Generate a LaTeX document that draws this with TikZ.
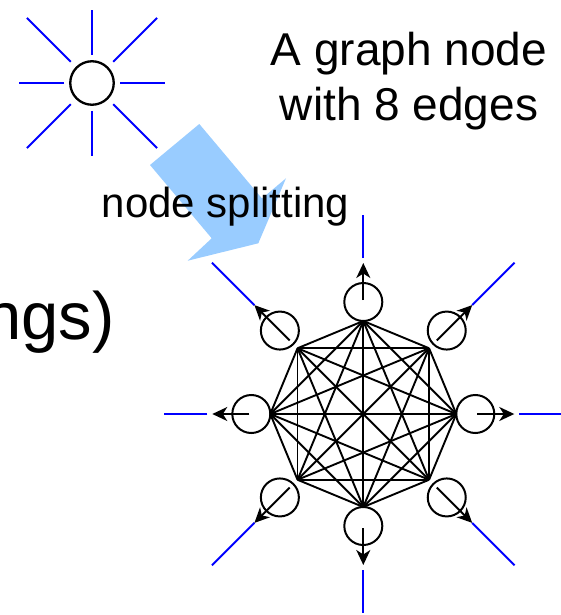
\documentclass[tikz,border=0pt]{standalone}
\usepackage{fontspec}
\setmainfont{Liberation Sans}
\usetikzlibrary{arrows.meta,calc}
\definecolor{arrowblue}{HTML}{99CCFF}
\definecolor{rayblue}{HTML}{0000FF}
\begin{document}
\begin{tikzpicture}[x=1pt,y=-1pt,
  ray/.style={draw=rayblue,line width=2pt},
  edge/.style={draw=black,line width=1.9pt},
  ring/.style={circle,draw=black,line width=2pt,minimum size=38pt,inner sep=0pt},
  outarrow/.style={draw=black,line width=2pt,-{Stealth[length=15pt,width=14pt,inset=4.5pt]}},
  lbl/.style={inner sep=0pt}]
\useasboundingbox (0,0) rectangle (561,615);
\clip (0,0) rectangle (561,615);

% sun (graph node with 8 edges)
\node[ring,minimum size=43.5pt,line width=2.3pt] (sun) at (92,83) {};
\foreach \a in {0,90,180,270} {
  \coordinate (sa\a) at ($(sun.center)+(\a:28)$);
  \coordinate (sb\a) at ($(sun.center)+(\a:73)$);
  \draw[ray] (sa\a) -- (sb\a);
}
\foreach \a in {45,135,225,315} {
  \coordinate (sa\a) at ($(sun.center)+(\a:30)$);
  \coordinate (sb\a) at ($(sun.center)+(\a:92)$);
  \draw[ray] (sa\a) -- (sb\a);
}

% big arrow
\fill[arrowblue] (199.3,124) -- (150,165) -- (211.7,238.3) -- (187.7,260.7)
  -- (258.3,243.3) -- (286,178.3) -- (262,198.5) -- cycle;

% texts
\node[lbl,anchor=base,font=\fontsize{46}{55}\selectfont] (t1) at (409,66) {A graph node};
\node[lbl,anchor=base,font=\fontsize{46}{55}\selectfont] (t2) at (409,121) {with 8 edges};
\node[lbl,anchor=base,font=\fontsize{42}{50}\selectfont] (t3) at (225.5,217) {node splitting};
\node[lbl,anchor=base east,font=\fontsize{67}{78}\selectfont] (t4) at (115,339) {ngs)};

% split graph
\coordinate (C) at (363.3,414);
\foreach \i in {0,...,7} {
  \coordinate (v\i) at ($(C)+(\i*45:93)$);
}
\foreach \i in {0,...,6} {
  \pgfmathtruncatemacro\s{\i+1}
  \foreach \j in {\s,...,7} {
    \draw[edge] (v\i) -- (v\j);
  }
}
\foreach \i in {0,...,7} {
  \pgfmathtruncatemacro\odd{mod(\i,2)}
  \ifnum\odd=0
    \def\dc{112}\def\da{114}\def\dt{151}\def\bs{156}\def\be{199}
  \else
    \def\dc{118}\def\da{104}\def\dt{154}\def\bs{154}\def\be{214}
  \fi
  \node[ring] (c\i) at ($(C)+(\i*45:\dc)$) {};
  \coordinate (as\i) at ($(C)+(\i*45:\da)$);
  \coordinate (at\i) at ($(C)+(\i*45:\dt)$);
  \coordinate (bs\i) at ($(C)+(\i*45:\bs)$);
  \coordinate (be\i) at ($(C)+(\i*45:\be)$);
  \draw[outarrow] (as\i) -- (at\i);
  \draw[ray] (bs\i) -- (be\i);
}
\end{tikzpicture}
\end{document}
